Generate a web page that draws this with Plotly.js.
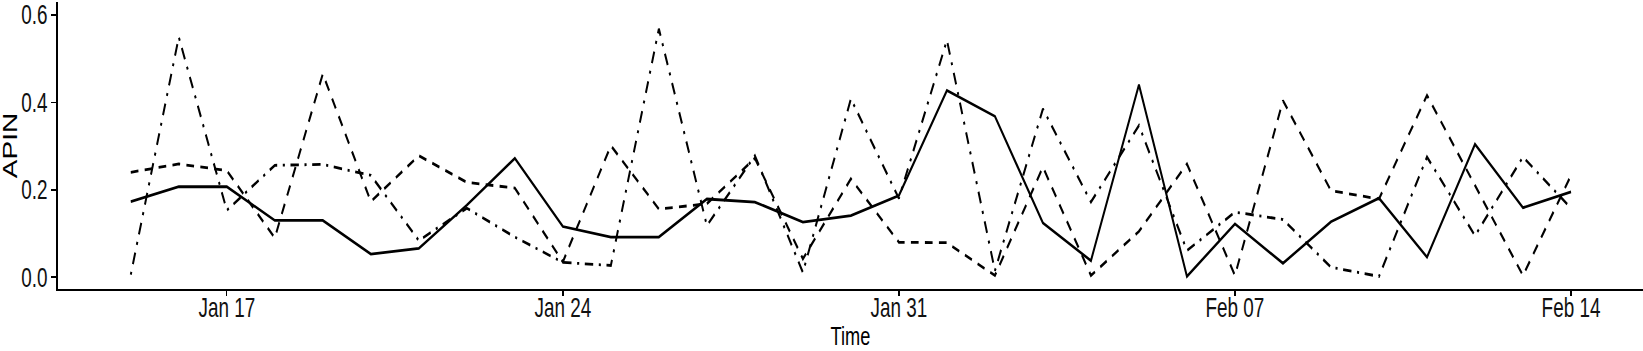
<!DOCTYPE html>
<html>
<head>
<meta charset="utf-8">
<script src="https://cdn.plot.ly/plotly-3.0.1.min.js"></script>
<style>
  html, body { margin: 0; padding: 0; width: 1643px; height: 351px; overflow: hidden; background: #fff; }
  #chart { width: 2347px; height: 351px; transform: scaleX(0.7); transform-origin: 0 0; }
</style>
</head>
<body>
<div id="chart"></div>
<script>
const dates = [
  '2021-01-15','2021-01-16','2021-01-17','2021-01-18','2021-01-19','2021-01-20','2021-01-21',
  '2021-01-22','2021-01-23','2021-01-24','2021-01-25','2021-01-26','2021-01-27','2021-01-28',
  '2021-01-29','2021-01-30','2021-01-31','2021-02-01','2021-02-02','2021-02-03','2021-02-04',
  '2021-02-05','2021-02-06','2021-02-07','2021-02-08','2021-02-09','2021-02-10','2021-02-11',
  '2021-02-12','2021-02-13','2021-02-14'
];
const solidSeries = [0.173,0.207,0.207,0.130,0.130,0.053,0.066,0.165,0.272,0.116,0.092,0.092,0.179,0.172,0.126,0.141,0.187,0.427,0.368,0.124,0.038,0.440,0.002,0.122,0.032,0.127,0.181,0.046,0.304,0.159,0.195];
const dashedSeries = [0.240,0.259,0.244,0.090,0.465,0.173,0.278,0.217,0.204,0.035,0.301,0.156,0.168,0.272,0.042,0.225,0.080,0.079,0.004,0.252,0.004,0.105,0.259,0.004,0.404,0.198,0.179,0.416,0.210,0.004,0.233];
const dotdashSeries = [0.006,0.549,0.153,0.256,0.258,0.233,0.084,0.158,0.092,0.034,0.027,0.568,0.118,0.278,0.011,0.408,0.180,0.542,0.015,0.385,0.172,0.347,0.061,0.149,0.132,0.023,0.002,0.275,0.095,0.275,0.158];
const tickDates = ['2021-01-17','2021-01-24','2021-01-31','2021-02-07','2021-02-14'];
const tickLabels = ['Jan 17','Jan 24','Jan 31','Feb 07','Feb 14'];
const yTicks = [0.0, 0.2, 0.4, 0.6];

const font = 'Liberation Sans, Arial, sans-serif';

const traces = [
  { x: dates, y: solidSeries, type: 'scatter', mode: 'lines', name: 'solid',
    line: { color: '#000', width: 2.8 } },
  { x: dates, y: dashedSeries, type: 'scatter', mode: 'lines', name: 'dashed',
    line: { color: '#000', width: 2.8, dash: '11px,9px' } },
  { x: dates, y: dotdashSeries, type: 'scatter', mode: 'lines', name: 'dotdash',
    line: { color: '#000', width: 2.8, dash: '3px,8px,12px,8px' } }
];

const layout = {
  width: 2347, height: 351,
  margin: { l: 83, r: 0, t: 2, b: 62, pad: 0 },
  paper_bgcolor: '#fff', plot_bgcolor: '#fff',
  showlegend: false,
  font: { family: font, color: '#000', size: 27 },
  xaxis: {
    type: 'date',
    range: ['2021-01-13 11:40', '2021-02-15 11:56'],
    tickvals: tickDates, ticktext: tickLabels,
    ticks: 'outside', ticklen: 5, tickwidth: 2, tickcolor: '#000',
    ticklabelstandoff: -11, ticklabeloverflow: 'allow',
    showline: true, linecolor: '#000', linewidth: 2,
    showgrid: false, zeroline: false,
    tickfont: { family: font, size: 27, color: '#111' },
    title: { text: 'Time', font: { family: font, size: 26, color: '#000' }, standoff: 5 }
  },
  yaxis: {
    range: [-0.0268, 0.6293],
    tickvals: yTicks, tickformat: '.1f',
    ticks: 'outside', ticklen: 7, tickwidth: 1.6, tickcolor: '#000',
    ticklabeloverflow: 'allow',
    showline: true, linecolor: '#000', linewidth: 2.6,
    showgrid: false, zeroline: false,
    tickfont: { family: font, size: 27, color: '#111' },
    title: { text: 'APIN', font: { family: font, size: 28, color: '#000' }, standoff: 5 }
  }
};

Plotly.newPlot('chart', traces, layout, { staticPlot: true, displayModeBar: false });
</script>
</body>
</html>
